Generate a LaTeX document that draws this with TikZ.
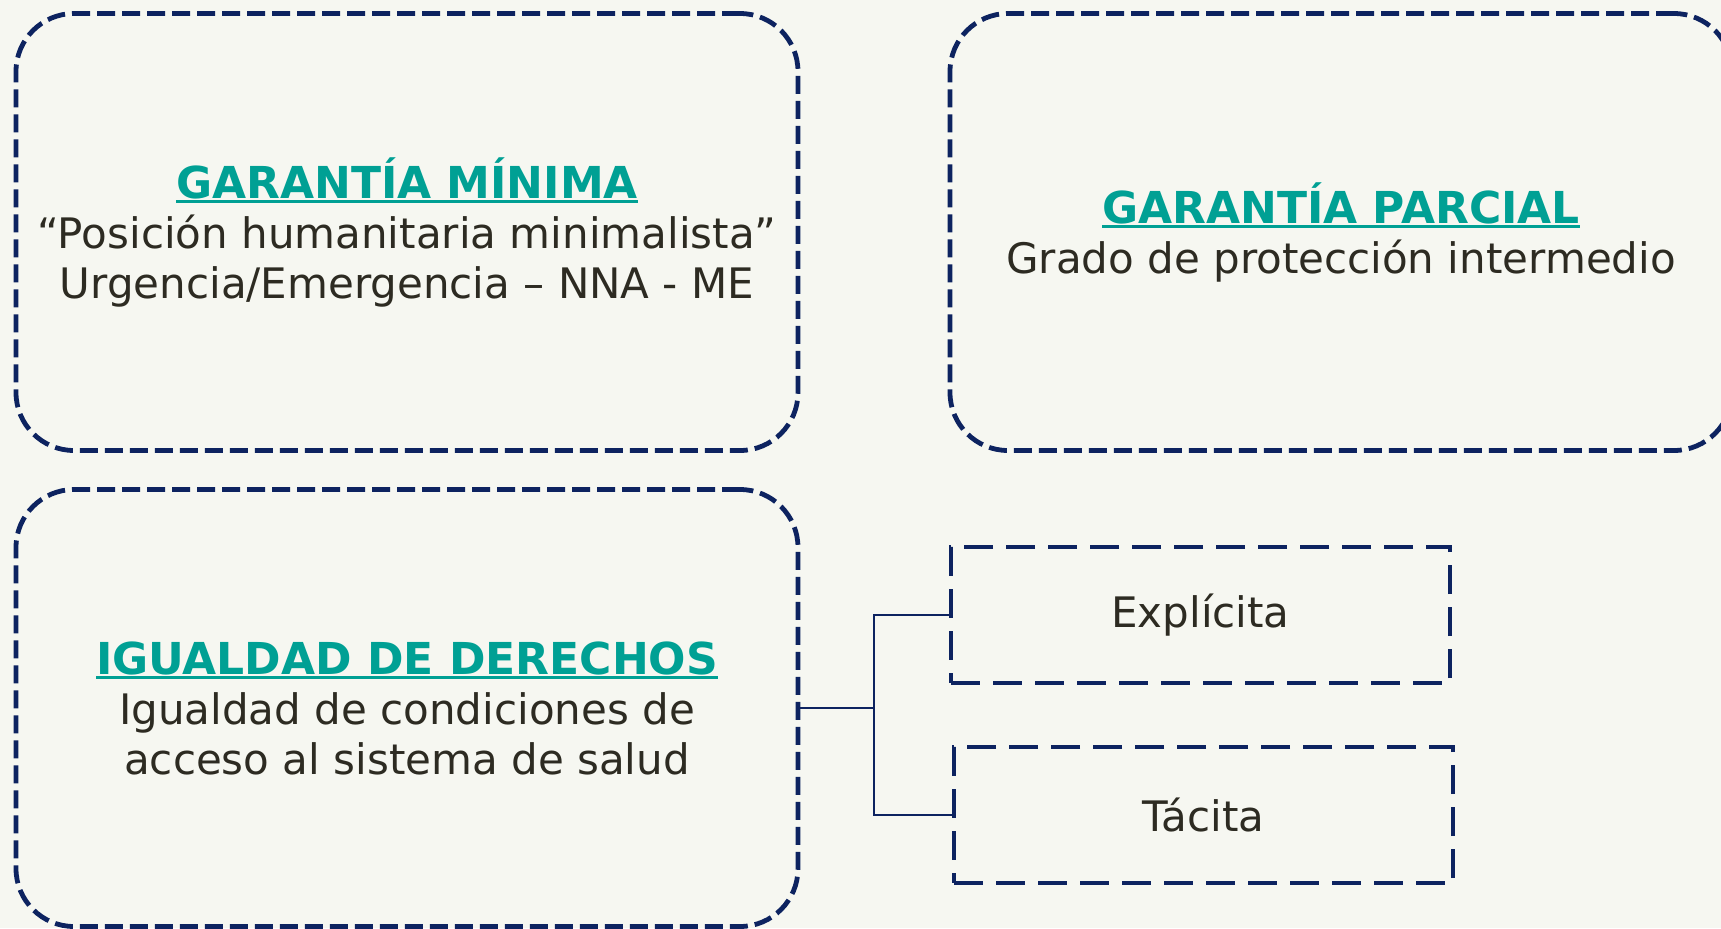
\documentclass[tikz,border=0pt]{standalone}
\usepackage{fontspec}
\setmainfont{DejaVu Sans}
\definecolor{bgcream}{HTML}{F6F7F1}
\definecolor{navy}{HTML}{0D2360}
\definecolor{tealtitle}{HTML}{00A094}
\definecolor{inktext}{HTML}{2D2B22}
\tikzstyle{bigbox}=[draw=navy,line width=2.4pt,dash pattern=on 9pt off 3.5pt,rounded corners=29pt,minimum width=391pt,minimum height=218.5pt,align=center,text=inktext,font=\fontsize{21}{25}\selectfont]
\tikzstyle{smallbox}=[draw=navy,line width=1.8pt,dash pattern=on 14.5pt off 6.5pt,minimum width=249.5pt,minimum height=68pt,text=inktext,font=\fontsize{21}{25}\selectfont]
\tikzstyle{link}=[draw=navy,line width=0.75pt]
\newcommand{\headline}[1]{{\fontsize{22}{25}\selectfont\color{tealtitle}\bfseries\setbox0\hbox{#1}\rlap{\rule[-2.5pt]{\wd0}{1.5pt}}\box0}}

\begin{document}
\begin{tikzpicture}[x=0.5pt,y=-0.5pt]
    % page and background
    \fill[bgcream] (0,0) rectangle (1721,928);
    \useasboundingbox (0,0) rectangle (1721,928);

    % the three main boxes
    \node[bigbox] (minima) at (407,232) {\headline{GARANTÍA MÍNIMA}\\“Posición humanitaria minimalista”\\Urgencia/Emergencia – NNA - ME};
    \node[bigbox] (parcial) at (1341,232) {\headline{GARANTÍA PARCIAL}\\Grado de protección intermedio};
    \node[bigbox] (igualdad) at (407,708) {\headline{IGUALDAD DE DERECHOS}\\Igualdad de condiciones de\\acceso al sistema de salud};

    % the two kinds of igualdad
    \node[smallbox] (explicita) at (1200.5,615) {\raisebox{-2pt}{Explícita}};
    \node[smallbox] (tacita) at (1203.5,815) {\raisebox{-1pt}{Tácita}};

    \coordinate (split) at (874,708);
    \draw[link] (igualdad.east) -- (split);
    \draw[link] (split) |- (explicita.west);
    \draw[link] (split) |- (tacita.west);
\end{tikzpicture}
\end{document}
